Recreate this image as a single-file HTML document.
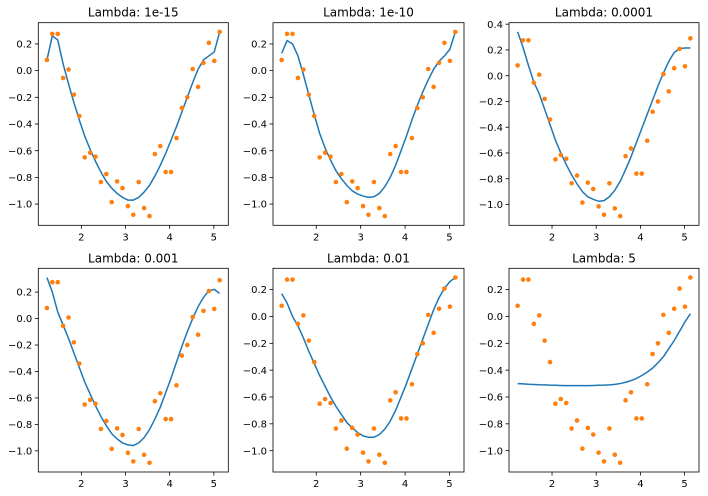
<!DOCTYPE html>
<html><head><meta charset="utf-8"><style>
html,body{margin:0;padding:0;background:#fff;}
svg{display:block;font-family:"DejaVu Sans","Liberation Sans",sans-serif;}
</style></head><body>
<svg id="fig" width="708" height="496" viewBox="0 0 708 496" xmlns="http://www.w3.org/2000/svg"></svg>
<script>
const xData = [];
for (let d = 70; d < 300; d += 7) xData.push(d * Math.PI / 180);
const yData = [0.08,0.275,0.275,-0.055,0.008,-0.18,-0.34,-0.65,-0.615,-0.645,-0.835,-0.775,-0.985,-0.83,-0.88,-1.015,-1.08,-0.835,-1.03,-1.09,-0.625,-0.565,-0.76,-0.76,-0.505,-0.28,-0.2,0.012,-0.122,0.058,0.208,0.073,0.29];
const titles = ["Lambda: 1e-15","Lambda: 1e-10","Lambda: 0.0001","Lambda: 0.001","Lambda: 0.01","Lambda: 5"];
const fit1 = [0.08,0.26,0.23,0.05,-0.1,-0.24,-0.37,-0.49,-0.59,-0.68,-0.76,-0.83,-0.88,-0.92,-0.95,-0.97,-0.97,-0.95,-0.91,-0.86,-0.79,-0.71,-0.62,-0.52,-0.42,-0.31,-0.2,-0.09,0.01,0.08,0.11,0.14,0.29];
const fit2 = [0.13,0.225,0.2,0.11,-0.03,-0.18,-0.33,-0.47,-0.58,-0.67,-0.75,-0.81,-0.86,-0.9,-0.925,-0.94,-0.95,-0.945,-0.92,-0.87,-0.8,-0.71,-0.6,-0.49,-0.37,-0.26,-0.16,-0.07,0.01,0.07,0.11,0.16,0.29];
const fit3 = [0.34,0.22,0.08,-0.05,-0.14,-0.26,-0.38,-0.5,-0.6,-0.69,-0.77,-0.84,-0.9,-0.94,-0.96,-0.975,-0.97,-0.94,-0.89,-0.82,-0.73,-0.63,-0.52,-0.41,-0.3,-0.19,-0.08,0.02,0.11,0.18,0.21,0.215,0.215];
const fit4 = [0.31,0.2,0.05,-0.05,-0.15,-0.26,-0.37,-0.48,-0.57,-0.66,-0.74,-0.81,-0.87,-0.91,-0.94,-0.955,-0.96,-0.94,-0.9,-0.84,-0.76,-0.67,-0.56,-0.45,-0.33,-0.21,-0.1,0.0,0.09,0.16,0.21,0.22,0.19];
const fit5 = [0.17,0.1,0.0,-0.07,-0.16,-0.26,-0.35,-0.44,-0.52,-0.6,-0.67,-0.73,-0.79,-0.83,-0.865,-0.89,-0.9,-0.9,-0.88,-0.84,-0.78,-0.7,-0.6,-0.5,-0.39,-0.28,-0.17,-0.06,0.05,0.14,0.21,0.26,0.29];
const fit6 = [-0.5,-0.502,-0.505,-0.507,-0.509,-0.51,-0.512,-0.513,-0.514,-0.515,-0.515,-0.515,-0.515,-0.515,-0.514,-0.513,-0.512,-0.51,-0.506,-0.5,-0.49,-0.478,-0.462,-0.44,-0.415,-0.385,-0.345,-0.3,-0.24,-0.18,-0.11,-0.04,0.02];
const fits = [fit1,fit2,fit3,fit4,fit5,fit6];
const xTicks = [2,3,4,5];
const yTicks = [-1.0,-0.8,-0.6,-0.4,-0.2,0.0,0.2,0.4];

const NS = "http://www.w3.org/2000/svg";
const svg = document.getElementById("fig");
const cols = [[38.3,228.3],[273,464],[509,699]];
const rows = [[22.7,225.3],[268.3,472]];
function mk(tag, attrs, parent){const e=document.createElementNS(NS,tag);for(const k in attrs)e.setAttribute(k,attrs[k]);(parent||svg).appendChild(e);return e;}

fits.forEach((fit,i)=>{
  const [L,R]=cols[i%3], [T,B]=rows[Math.floor(i/3)];
  const g = mk("g",{});
  
  
  const xmin=Math.min(...xData), xmax=Math.max(...xData);
  const allY=yData.concat(fit);
  const ymin=Math.min(...allY), ymax=Math.max(...allY);
  const xm=(xmax-xmin)*0.05, ym=(ymax-ymin)*0.05;
  const x0=xmin-xm, x1=xmax+xm, y0=ymin-ym, y1=ymax+ym;
  const sx=v=>L+(v-x0)/(x1-x0)*(R-L);
  const sy=v=>B-(v-y0)/(y1-y0)*(B-T);
  // line
  const pl = mk("polyline",{points:xData.map((x,j)=>sx(x).toFixed(2)+","+sy(fit[j]).toFixed(2)).join(" "),fill:"none",stroke:"#1f77b4","stroke-width":1.5},g);
  
  
  xData.forEach((x,j)=>{
    const c = mk("circle",{cx:sx(x),cy:sy(yData[j]),r:2.3,fill:"#ff7f0e"},g);
    
    
  });
  const fr = mk("rect",{x:L,y:T,width:R-L,height:B-T,fill:"none",stroke:"#000","stroke-width":0.8},g);
  
  
  xTicks.forEach(t=>{
    const X=sx(t);
    mk("line",{x1:X,x2:X,y1:B,y2:B+3.5,stroke:"#000","stroke-width":0.8},g);
    const tx=mk("text",{x:X,y:B+15,"font-size":10,"text-anchor":"middle",fill:"#000"},g);
    tx.textContent=String(t);
    
    
  });
  yTicks.forEach(t=>{
    if(t<y0||t>y1)return;
    const Y=sy(t);
    mk("line",{x1:L-3.5,x2:L,y1:Y,y2:Y,stroke:"#000","stroke-width":0.8},g);
    const tx=mk("text",{x:L-6,y:Y+3.6,"font-size":10,"text-anchor":"end",fill:"#000"},g);
    tx.textContent=t.toFixed(1).replace("-","\u2212");
    
    
  });
  const ti=mk("text",{x:(L+R)/2,y:T-6,"font-size":12,"text-anchor":"middle",fill:"#000"},g);
  ti.textContent=titles[i];
  
  
});
</script>
</body></html>
